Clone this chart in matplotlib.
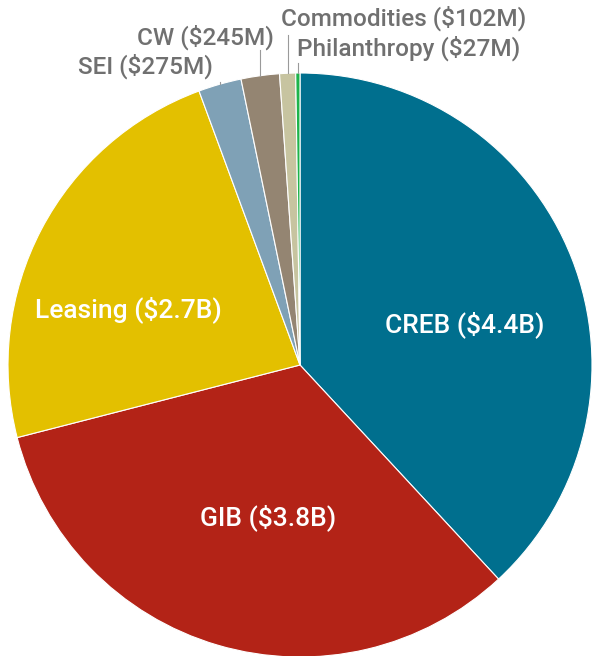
import numpy as np
import matplotlib.pyplot as plt

names = ["CREB", "GIB", "Leasing", "SEI", "CW", "Commodities", "Philanthropy"]
values = [4400, 3800, 2700, 275, 245, 102, 27]
labels = ["CREB ($4.4B)", "GIB ($3.8B)", "Leasing ($2.7B)", "SEI ($275M)",
          "CW ($245M)", "Commodities ($102M)", "Philanthropy ($27M)"]
colors = ["#006F8E", "#B32317", "#E3C000", "#7FA1B6", "#948572", "#C7C4A0", "#1DB44A"]

plt.rcParams["font.family"] = ["Roboto", "DejaVu Sans"]

W, H = 592, 656
cx, cy, R = 300, 365, 292

fig = plt.figure(figsize=(W / 100, H / 100), dpi=100)
ax = fig.add_axes([0, 0, 1, 1])

def d(px, py):
    return (px - cx) / R, (cy - py) / R

wedges, _ = ax.pie(values, colors=colors, startangle=90, counterclock=False,
                   radius=1, center=(0, 0), frame=True,
                   wedgeprops=dict(linewidth=0.8, edgecolor="white"))
ax.set_xlim(-cx / R, (W - cx) / R)
ax.set_ylim(-(H - cy) / R, cy / R)
ax.axis("off")

# big slices: white labels inside
inside = {0: (465, 325), 1: (268, 518), 2: (128, 310)}
for i, (px, py) in inside.items():
    x, y = d(px, py)
    ax.text(x, y, labels[i], color="white", fontsize=19, fontweight="medium",
            ha="center", va="center")

# small slices: grey labels above with leader lines
outside = {3: (145, 66, 82), 4: (205, 37, 50), 5: (404, 18, 35), 6: (409, 48, 63)}
for i, (px, py, ly) in outside.items():
    w = wedges[i]
    ang = np.deg2rad((w.theta1 + w.theta2) / 2)
    x0 = np.cos(ang)
    y0 = np.sin(ang)
    ax.plot([x0, x0], [y0, d(0, ly)[1]], color="#9A9A9A", lw=0.8)
    x, y = d(px, py)
    ax.text(x, y, labels[i], color="#707070", fontsize=17.5, fontweight="medium",
            ha="center", va="center")

fig.savefig("out.png", dpi=100)
